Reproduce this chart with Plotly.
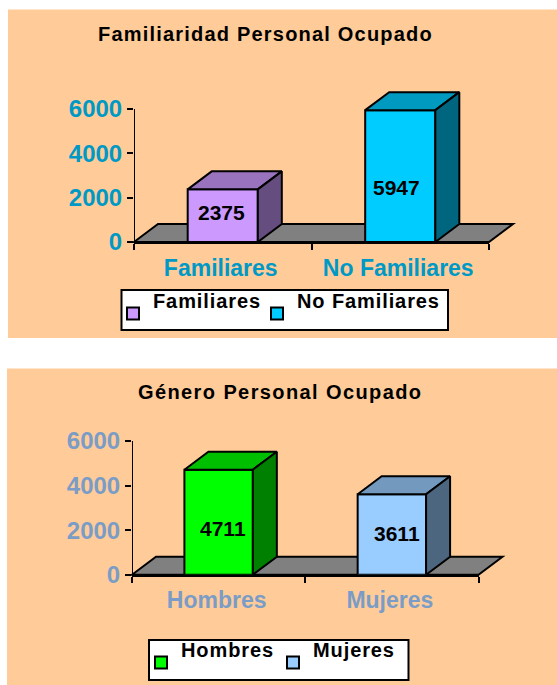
import plotly.graph_objects as go

W, H = 557, 685
FONT = 'Liberation Sans'

# chart 1
categories_fam = ['Familiares', 'No Familiares']
values_fam = [2375, 5947]
# chart 2
categories_gen = ['Hombres', 'Mujeres']
values_gen = [4711, 3611]
y_ticks = [0, 2000, 4000, 6000]

title_fam = 'Familiaridad Personal Ocupado'
title_gen = 'Género Personal Ocupado'

# front, top, side colours per bar
colors_fam = [('#CC99FF', '#9A73BF', '#664D80'), ('#00CCFF', '#0099BF', '#00667F')]
colors_gen = [('#00FF00', '#00BF00', '#008000'), ('#99CCFF', '#7399BF', '#4D6680')]


def spaced(text, px=1.0):
    return f'<span style="letter-spacing:{px}px">{text}</span>'


def px_x(x):
    return x / W


def px_y(y):
    return (H - y) / H


fig = go.Figure()
shapes = []
annotations = []


def add_chart(n, cats, vals, colors, left, right, y0, y6000, tick_color, panel, box,
              title, title_xy, title_sp, legend_x, legend_y, shifts):
    xa = 'xaxis' if n == 1 else f'xaxis{n}'
    ya = 'yaxis' if n == 1 else f'yaxis{n}'
    xr = 'x' if n == 1 else f'x{n}'
    yr = 'y' if n == 1 else f'y{n}'

    cat_w = (right - left) / 2
    unit = (y0 - y6000) / 6000
    dx = 24 / cat_w
    dy = 18 / unit
    bar_w = 0.395
    y_top = 7000  # headroom so the bar tops are not clipped

    # peach panel and white legend box sit under everything
    shapes.append(dict(type='rect', xref='paper', yref='paper', layer='below',
                       x0=px_x(panel[0]), x1=px_x(panel[2]), y0=px_y(panel[3]), y1=px_y(panel[1]),
                       fillcolor='#FFCC99', line_width=0))
    shapes.append(dict(type='rect', xref='paper', yref='paper', layer='below',
                       x0=px_x(box[0]), x1=px_x(box[2]), y0=px_y(box[3]), y1=px_y(box[1]),
                       fillcolor='white', line=dict(color='black', width=2)))
    # grey floor
    fl = [(left, y0), (left + 24, y0 - 18), (right + 24, y0 - 18), (right, y0)]
    path = 'M' + ' L'.join(f'{px_x(a):.5f},{px_y(b):.5f}' for a, b in fl) + ' Z'
    shapes.append(dict(type='path', path=path, xref='paper', yref='paper', layer='below',
                       fillcolor='#808080', line=dict(color='black', width=2)))
    # y axis line stops at 6000
    shapes.append(dict(type='line', xref=xr, yref=yr, x0=0, x1=0, y0=0, y1=6000,
                       line=dict(color='black', width=2)))

    for i, (c, v, col) in enumerate(zip(cats, vals, colors)):
        x = i + 0.5
        x0, x1 = x - bar_w / 2, x + bar_w / 2
        # each entry gets its own legend so it can be placed on its own
        leg_num = 2 * (n - 1) + i + 1
        leg = 'legend' if leg_num == 1 else f'legend{leg_num}'
        fig.add_trace(go.Bar(x=[x], y=[v], width=bar_w, name=spaced(c, 0.9) + '<br> ',
                             xaxis=xr, yaxis=yr, legend=leg,
                             marker=dict(color=col[0], line=dict(color='black', width=2)),
                             hoverinfo='skip'))
        fig.add_trace(go.Scatter(x=[x0, x1, x1 + dx, x0 + dx, x0], y=[v, v, v + dy, v + dy, v],
                                 mode='lines', fill='toself', fillcolor=col[1], xaxis=xr, yaxis=yr,
                                 line=dict(color='black', width=2), showlegend=False,
                                 cliponaxis=False, hoverinfo='skip'))
        fig.add_trace(go.Scatter(x=[x1, x1 + dx, x1 + dx, x1, x1], y=[0, dy, v + dy, v, 0],
                                 mode='lines', fill='toself', fillcolor=col[2], xaxis=xr, yaxis=yr,
                                 line=dict(color='black', width=2), showlegend=False,
                                 cliponaxis=False, hoverinfo='skip'))
        annotations.append(dict(x=x, y=v / 2, xref=xr, yref=yr, text=f'<b>{v}</b>', showarrow=False,
                                xshift=shifts[i][0], yshift=shifts[i][1],
                                font=dict(family=FONT, size=21, color='black')))
        fig.layout[leg] = dict(orientation='h', x=px_x(legend_x[i]), y=px_y(legend_y),
                               xanchor='left', yanchor='top', bgcolor='rgba(0,0,0,0)', borderwidth=0,
                               itemclick=False, itemdoubleclick=False,
                               font=dict(family=FONT, size=20, color='black', weight='bold'))

    annotations.append(dict(x=px_x(title_xy[0]), y=px_y(title_xy[1]), xref='paper', yref='paper',
                            xanchor='center', yanchor='middle',
                            text='<b>' + spaced(title, title_sp) + '</b>', showarrow=False,
                            font=dict(family=FONT, size=20, color='black')))

    fig.layout[xa] = dict(domain=[px_x(left), px_x(right)], range=[0, 2], anchor=yr,
                          tickmode='array', tickvals=[0.5, 1.5], ticktext=cats, ticks='',
                          tickfont=dict(family=FONT, size=23, color=tick_color, weight='bold'),
                          ticklabelstandoff=4, ticklabelshift=-2,
                          showgrid=False, zeroline=False, showline=True,
                          linecolor='black', linewidth=2, fixedrange=True,
                          minor=dict(tickmode='array', tickvals=[0, 1, 2], ticks='outside',
                                     ticklen=6, tickwidth=2, tickcolor='black', showgrid=False))
    fig.layout[ya] = dict(domain=[px_y(y0), px_y(y0 - y_top * unit)], range=[0, y_top], anchor=xr,
                          tickmode='array', tickvals=y_ticks, ticks='outside', ticklen=6,
                          tickwidth=2, tickcolor='black',
                          tickfont=dict(family=FONT, size=24, color=tick_color, weight='bold'),
                          showgrid=False, zeroline=False, showline=False, fixedrange=True)


add_chart(1, categories_fam, values_fam, colors_fam, 134, 489, 242, 109, '#0099C6',
          (8, 9.5, 557, 338), (121.5, 290, 448, 330), title_fam, (265, 34), 1.2,
          (113, 257), 281, [(-1, 3), (-4, -11)])
add_chart(2, categories_gen, values_gen, colors_gen, 132, 478.5, 574.7, 441, '#7A9CC6',
          (7, 368.5, 557, 685), (149, 640, 408.5, 680), title_gen, (280, 392), 1.4,
          (141, 273), 630, [(4, -6), (5, 1)])

fig.update_layout(width=W, height=H, margin=dict(l=0, r=0, t=0, b=0, autoexpand=False), autosize=False,
                  paper_bgcolor='white', plot_bgcolor='rgba(0,0,0,0)', barmode='overlay',
                  shapes=shapes, annotations=annotations)

fig.write_html("out.html", config={'displayModeBar': False},
               post_script="document.body.style.margin='0';document.body.style.overflow='hidden';")
